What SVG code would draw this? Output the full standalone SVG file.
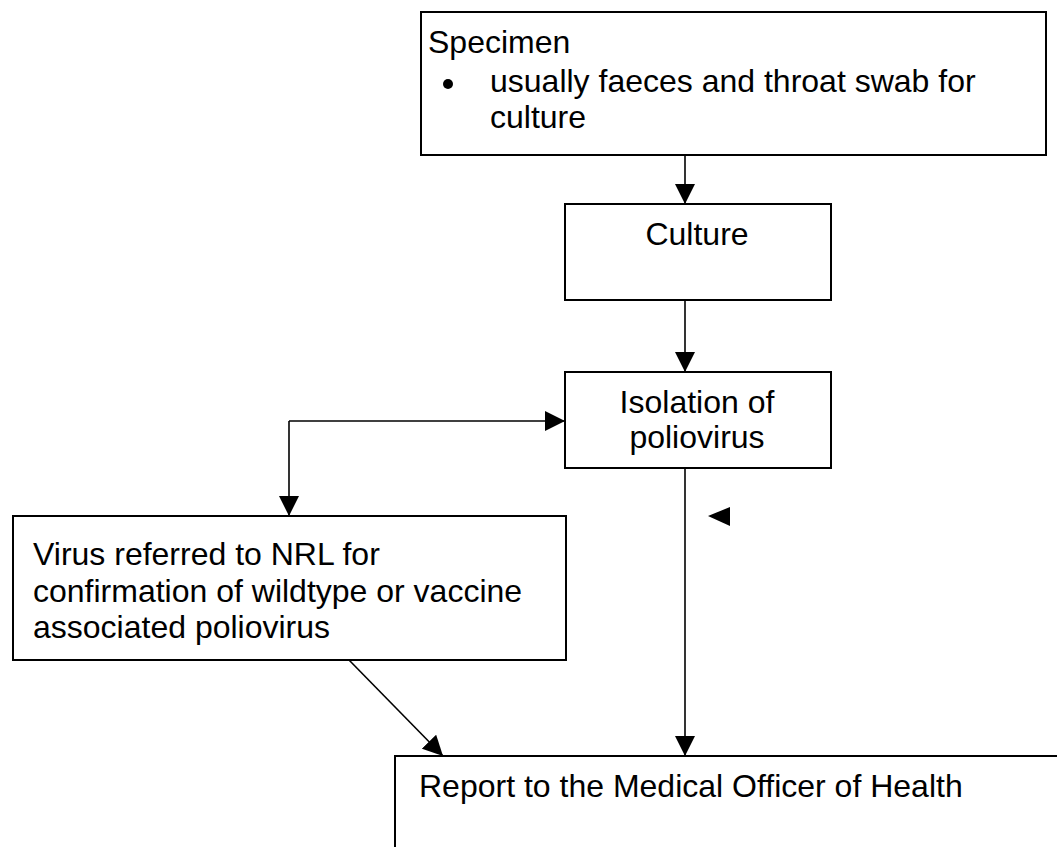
<svg xmlns="http://www.w3.org/2000/svg" width="1057" height="847" viewBox="0 0 1057 847">
<style>
.box{fill:#fff;stroke:#000;stroke-width:2}
.t{font-family:"Liberation Sans",Arial,sans-serif;font-size:32px;fill:#000}
.c{text-anchor:middle}
.ln{stroke:#000;stroke-width:1.6;fill:none}
</style>
<defs>
<marker id="ah" markerWidth="20" markerHeight="20" viewBox="0 0 20 20" refX="20" refY="10" orient="auto" markerUnits="userSpaceOnUse">
<path d="M0,0 L20,10 L0,20 Z" fill="#000"/>
</marker>
</defs>
<rect width="1057" height="847" fill="#fff"/>
<g id="connectors">
<line class="ln" x1="685" y1="155" x2="685" y2="204" marker-end="url(#ah)"/>
<line class="ln" x1="685" y1="300" x2="685" y2="372" marker-end="url(#ah)"/>
<line class="ln" x1="685" y1="468" x2="685" y2="756" marker-end="url(#ah)"/>
<path class="ln" d="M289,421 L565,421" marker-end="url(#ah)"/>
<path class="ln" d="M289,421 L289,516" marker-end="url(#ah)"/>
<line class="ln" x1="349" y1="660" x2="443" y2="756" marker-end="url(#ah)"/>
<path d="M708,516 L730,507 L730,526 Z" fill="#000"/>
</g>
<g id="specimen">
<rect class="box" x="421" y="12" width="625" height="143"/>
<text class="t" x="428" y="53">Specimen</text>
<circle cx="448" cy="84" r="5" fill="#000"/>
<text class="t" x="490" y="92">usually faeces and throat swab for</text>
<text class="t" x="490" y="128">culture</text>
</g>
<g id="culture">
<rect class="box" x="565" y="204" width="266" height="96"/>
<text class="t c" x="697" y="245">Culture</text>
</g>
<g id="isolation">
<rect class="box" x="565" y="372" width="266" height="96"/>
<text class="t c" x="697" y="413">Isolation of</text>
<text class="t c" x="697" y="448">poliovirus</text>
</g>
<g id="virus">
<rect class="box" x="13" y="516" width="553" height="144"/>
<text class="t" x="33" y="565">Virus referred to NRL for</text>
<text class="t" x="33" y="602">confirmation of wildtype or vaccine</text>
<text class="t" x="33" y="638">associated poliovirus</text>
</g>
<g id="report">
<rect class="box" x="395" y="756" width="700" height="120"/>
<text class="t" x="419" y="797">Report to the Medical Officer of Health</text>
</g>
</svg>
